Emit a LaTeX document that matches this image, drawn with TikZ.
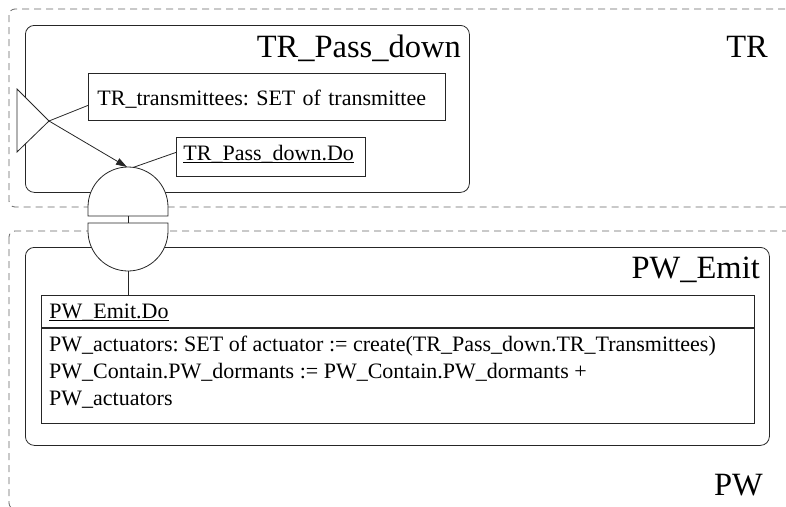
\documentclass[tikz,border=0pt]{standalone}
\usepackage{fontspec}
\setmainfont{Liberation Serif}
\usetikzlibrary{arrows.meta}
\frenchspacing

% text sizes
\newcommand\bodysize{\fontsize{22pt}{27pt}\selectfont}
\newcommand\titlesize{\fontsize{32.5pt}{38pt}\selectfont}
% underline that runs along the underscores
\newcommand\ulin[1]{\setbox0\hbox{#1}\rlap{\rule[-2.4pt]{\wd0}{0.9pt}}\box0}

\tikzset{
  ln/.style={draw=black!85, line width=0.8pt},
  zone/.style={draw=black!60, line width=0.8pt, dash pattern=on 7pt off 5pt, rounded corners=6pt},
  group/.style={draw=black!85, line width=0.8pt, rounded corners=9pt, rectangle,
                inner sep=0pt, anchor=north west},
  box/.style={draw=black!85, line width=0.8pt, rectangle, inner ysep=0pt,
              anchor=north west, align=left, font=\bodysize},
  title/.style={font=\titlesize, inner sep=0pt, anchor=base east},
  txt/.style={font=\bodysize, inner sep=0pt, anchor=base west},
  port/.style={draw=black!85, line width=0.8pt, fill=white},
}

\begin{document}
\begin{tikzpicture}[x=1pt, y=-1pt]
\useasboundingbox (0,0) rectangle (786,506);

% package zones
\draw[zone] (9,9) rectangle (812,207);
\draw[zone] (9,231) rectangle (812,509);
\node[title] (trtitle) at (768,57.5) {TR};
\node[title] (pwtitle) at (763,495) {PW};

% TR_Pass_down object
\node[group, minimum width=444pt, minimum height=167pt] (passdown) at (25,25) {};
\node[title] (passdowntitle) at (461,57.5) {TR\_Pass\_down};
\node[box, inner xsep=9pt, text width=339pt, text height=32pt, text depth=15pt]
  (trans) at (88,73) {TR\_transmittees: SET of transmittee};
\node[box, inner xsep=7pt, text width=175pt, text height=23pt, text depth=16pt]
  (passdo) at (176,137) {\ulin{TR\_Pass\_down.Do}};

% PW_Emit object
\node[group, minimum width=744pt, minimum height=198pt] (emit) at (25,247) {};
\node[title] (emittitle) at (760,278) {PW\_Emit};
\node[box, inner xsep=8pt, text width=697pt, text height=23pt, text depth=9pt]
  (emitdo) at (41,295) {\ulin{PW\_Emit.Do}};
\node[box, inner sep=0pt, minimum width=713pt, minimum height=95pt]
  (emitbody) at (emitdo.south west) {};
\node[txt] (line1) at (49,351) {PW\_actuators: SET of actuator := create(TR\_Pass\_down.TR\_Transmittees)};
\node[txt] (line2) at (49,378) {PW\_Contain.PW\_dormants := PW\_Contain.PW\_dormants +};
\node[txt] (line3) at (49,405) {PW\_actuators};

% input port (triangle) on the left of TR_Pass_down
\coordinate (apex) at (49,121);
\draw[port] (17,89) -- (apex) -- (17,152) -- cycle;

% provided / required ports across the zone boundary
\draw[port] (88,216) -- (88,207) arc[start angle=180, end angle=360, radius=40] -- (168,216) -- cycle;
\draw[port] (88,223) -- (168,223) -- (168,231) arc[start angle=0, end angle=180, radius=40] -- cycle;
\coordinate (tpeak) at (127,167);
\coordinate (tpeakr) at (133,167.5);
\coordinate (tfoot) at (128,216);
\coordinate (bhead) at (128,223);
\coordinate (bpeak) at (128,271);

% connectors
\draw[ln] (apex) -- ([yshift=-8.5pt]trans.west);
\draw[ln, -{Triangle[length=11pt, width=7pt]}] (apex) -- (tpeak);
\draw[ln] ([yshift=4.5pt]passdo.west) -- (tpeakr);
\draw[ln] (tfoot) -- (bhead);
\draw[ln] (bpeak) -- (bpeak |- emitdo.north);
\end{tikzpicture}
\end{document}
